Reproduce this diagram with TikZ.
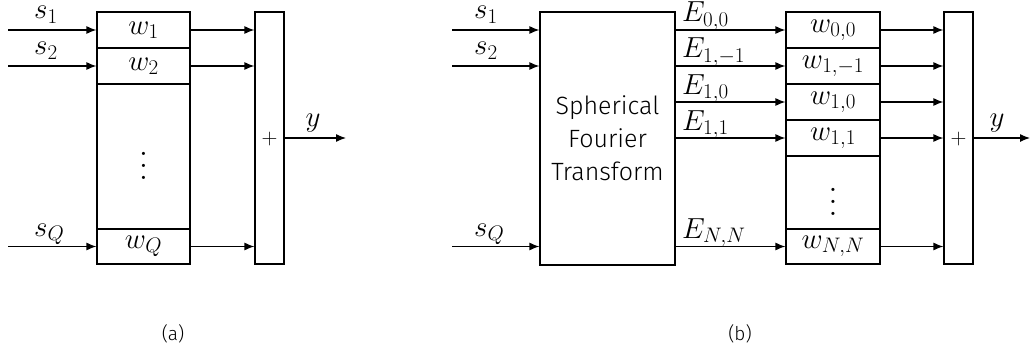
\documentclass[tikz,border=0pt]{standalone}
\usepackage{fix-cm}
\usepackage{fontspec}
\setsansfont{Fira Sans Light}
\DeclareMathSizes{29}{29}{21}{15}
\usetikzlibrary{arrows.meta}
\begin{document}
\begin{tikzpicture}[x=1pt,y=-1pt,
  font=\fontsize{29}{34}\selectfont,
  cell/.style={draw,line width=1.2pt,inner sep=0pt},
  conn/.style={line width=1.2pt,-{Latex[length=10pt,width=8pt]}},
  lbl/.style={anchor=base west,inner sep=0pt},
  dots/.style={font=\fontsize{10}{12}\selectfont,scale=3,inner sep=0pt},
  subcap/.style={font=\sffamily\fontsize{19}{24}\selectfont}]
\useasboundingbox (0,0) rectangle (1030,353);
% ---------- panel (a) ----------
\node[cell,minimum width=93pt,minimum height=36pt] (aw1) at (143.5,30) {$w_1$};
\node[cell,minimum width=93pt,minimum height=36pt] (aw2) at (143.5,66) {$w_2$};
\node[cell,minimum width=93pt,minimum height=145pt] (awd) at (143.5,156.5) {};
\node[dots] (awdots) at (143.5,156.5) {$\vdots$};
\node[cell,minimum width=93pt,minimum height=35pt] (awQ) at (143.5,246.5) {$w_Q$};
\node[cell,minimum width=29pt,minimum height=252pt] (asum) at (269.5,138) {};
\node[font=\fontsize{22}{26}\selectfont] (aplus) at (269.5,139) {$+$};
\coordinate (as1) at (8,30);
\coordinate (as2) at (8,66);
\coordinate (asQ) at (8,246.5);
\coordinate (aout) at (346,138);
\draw[conn] (as1) -- (aw1.west);
\draw[conn] (as2) -- (aw2.west);
\draw[conn] (asQ) -- (awQ.west);
\draw[conn] (aw1.east) -- (aw1.east -| asum.west);
\draw[conn] (aw2.east) -- (aw2.east -| asum.west);
\draw[conn] (awQ.east) -- (awQ.east -| asum.west);
\draw[conn] (asum.east |- aout) -- (aout);
\node[lbl] (las1) at (34,19) {$s_1$};
\node[lbl] (las2) at (34,55) {$s_2$};
\node[lbl] (lasQ) at (34,236) {$s_Q$};
\node[anchor=base] (lay) at (313,126) {$y$};
\node[subcap] (capa) at (173,334) {(a)};
% ---------- panel (b) ----------
\node[cell,minimum width=135pt,minimum height=253pt,align=center,
  font=\sffamily\fontsize{25}{33}\selectfont] (sft) at (607.5,138.5)
  {Spherical\\Fourier\\Transform};
\node[cell,minimum width=94pt,minimum height=36pt] (bw00) at (833,30) {$w_{0,0}$};
\node[cell,minimum width=94pt,minimum height=36pt] (bw1m) at (833,66) {$w_{1,-1}$};
\node[cell,minimum width=94pt,minimum height=36pt] (bw10) at (833,102) {$w_{1,0}$};
\node[cell,minimum width=94pt,minimum height=36pt] (bw11) at (833,138) {$w_{1,1}$};
\node[cell,minimum width=94pt,minimum height=73pt] (bwd) at (833,192.5) {};
\node[dots] (bwdots) at (833,192.5) {$\vdots$};
\node[cell,minimum width=94pt,minimum height=35pt] (bwN) at (833,246.5) {$w_{N,N}$};
\node[cell,minimum width=29pt,minimum height=252pt] (bsum) at (958.5,138) {};
\node[font=\fontsize{22}{26}\selectfont] (bplus) at (958.5,139) {$+$};
\coordinate (bs1) at (452,30);
\coordinate (bs2) at (452,66);
\coordinate (bsQ) at (452,246.5);
\coordinate (bout) at (1030,138);
\draw[conn] (bs1) -- (bs1 -| sft.west);
\draw[conn] (bs2) -- (bs2 -| sft.west);
\draw[conn] (bsQ) -- (bsQ -| sft.west);
\foreach \c in {bw00,bw1m,bw10,bw11,bwN}{
  \draw[conn] (\c.west -| sft.east) -- (\c.west);
  \draw[conn] (\c.east) -- (\c.east -| bsum.west);
}
\draw[conn] (bsum.east |- bout) -- (bout);
\node[lbl] (lbs1) at (474,19) {$s_1$};
\node[lbl] (lbs2) at (474,55) {$s_2$};
\node[lbl] (lbsQ) at (474,236) {$s_Q$};
\node[lbl] (lE00) at (682,22) {$E_{0,0}$};
\node[lbl] (lE1m) at (682,58) {$E_{1,-1}$};
\node[lbl] (lE10) at (682,94) {$E_{1,0}$};
\node[lbl] (lE11) at (682,130) {$E_{1,1}$};
\node[lbl] (lENN) at (682,238) {$E_{N,N}$};
\node[anchor=base] (lby) at (997,126) {$y$};
\node[subcap] (capb) at (740,334) {(b)};
\end{tikzpicture}
\end{document}
